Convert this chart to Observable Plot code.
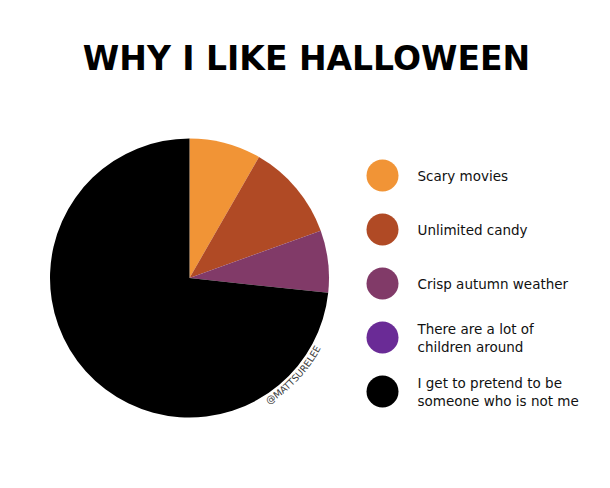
<!DOCTYPE html>
<html>
<head>
<meta charset="utf-8">
<script src="https://cdn.jsdelivr.net/npm/d3@7"></script>
<script src="https://cdn.jsdelivr.net/npm/@observablehq/plot@0.6"></script>
<style>
  html, body { margin: 0; padding: 0; background: #fff; }
  #wrap { width: 610px; }
  #title {
    box-sizing: border-box; height: 100px; padding-top: 42px; padding-left: 3px;
    font: bold 33px/33px "DejaVu Sans", sans-serif; color: #000; text-align: center;
    margin: 0;
  }
  svg { display: block; }
</style>
</head>
<body>
<div id="wrap">
  <div id="title">WHY I LIKE HALLOWEEN</div>
  <div id="chart"></div>
</div>
<script>
const categories = [
  "Scary movies",
  "Unlimited candy",
  "Crisp autumn weather",
  "There are a lot of\nchildren around",
  "I get to pretend to be\nsomeone who is not me"
];
const shares = [8.3, 11.2, 7.2, 0, 73.3];
const colors = ["#f19436", "#b04a25", "#813a68", "#6a2b96", "#000000"];
const credit = "@MATTSURELEE";

const table = categories.map((c, i) => ({category: c, share: shares[i]}));

// layout (pixels inside the SVG)
const pie = {cx: 189.5, cy: 178, r: 139.5};

function pieMark(index, scales, values, dimensions, context) {
  const color = (scales && scales.color) || d3.scaleOrdinal(categories, colors);
  const g = d3.create("svg:g");
  const arcs = d3.pie().sort(null).value(d => d.share)(table);
  const arc = d3.arc().innerRadius(0).outerRadius(pie.r);
  g.append("g")
    .attr("transform", `translate(${pie.cx},${pie.cy})`)
    .selectAll("path")
    .data(arcs.filter(a => a.data.share > 0))
    .join("path")
    .attr("d", arc)
    .attr("fill", a => color(a.data.category));
  // credit along the rim
  const R = pie.r + 9.5, mid = 133 * Math.PI / 180, half = 45 * Math.PI / 180;
  const a0 = mid + half, a1 = mid - half;
  const p = a => [pie.cx + R * Math.sin(a), pie.cy - R * Math.cos(a)];
  const [x0, y0] = p(a0), [x1, y1] = p(a1);
  const id = "creditArc";
  g.append("path").attr("id", id).attr("fill", "none")
    .attr("d", `M${x0},${y0}A${R},${R} 0 0 0 ${x1},${y1}`);
  g.append("text")
    .attr("font-family", "DejaVu Sans, sans-serif")
    .attr("font-size", 9.5)
    .attr("fill", "#3a3a3a")
    .append("textPath")
    .attr("href", "#" + id)
    .attr("startOffset", "50%")
    .attr("text-anchor", "middle")
    .text(credit);
  return g.node();
}

const chart = Plot.plot({
  width: 610,
  height: 388,
  marginLeft: 154,
  marginRight: 0,
  marginTop: 0,
  marginBottom: 0,
  style: {background: "#fff", overflow: "visible"},
  y: {type: "point", domain: categories, range: [75, 291], padding: 0, axis: null},
  color: {domain: categories, range: colors},
  marks: [
    pieMark,
    Plot.dot(table, {y: "category", fill: "category", r: 16}),
    Plot.text(table, {
      y: "category", text: "category", dx: 35, textAnchor: "start",
      fontSize: 13.5, fontFamily: "DejaVu Sans, sans-serif", lineHeight: 1.333,
      fill: "#111"
    })
  ]
});
document.getElementById("chart").appendChild(chart);
</script>
</body>
</html>
